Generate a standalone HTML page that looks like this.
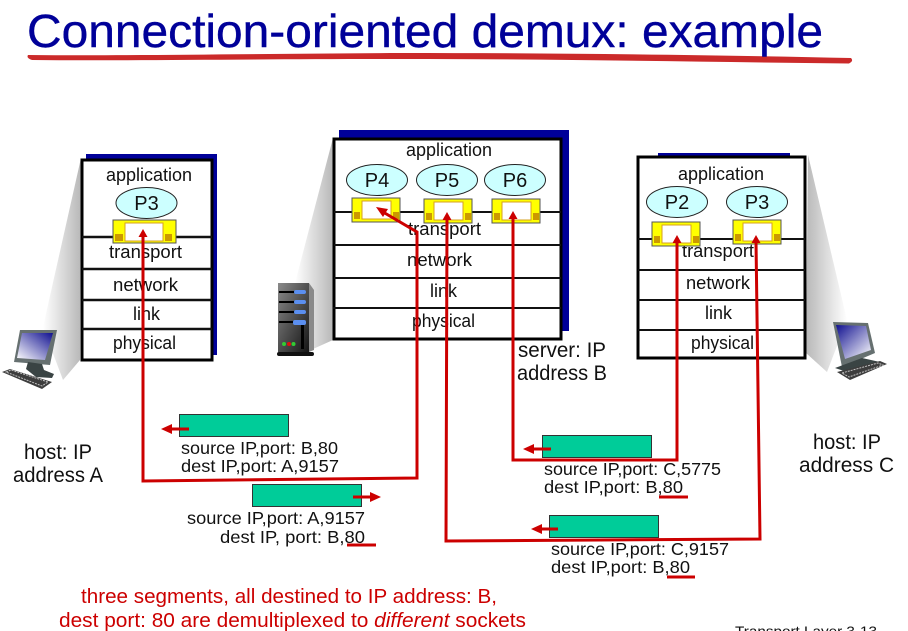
<!DOCTYPE html>
<html><head><meta charset="utf-8"><style>
html,body{margin:0;padding:0;background:#fff;width:908px;height:631px;overflow:hidden}
svg{display:block}
text{font-family:"Liberation Sans",sans-serif;fill:#111}
.l{font-size:18px}.p{font-size:20px}.s{font-size:17.500px}.h{font-size:21px}.r{font-size:20.500px;fill:#cc0000}
</style></head><body>
<svg width="908" height="631" viewBox="0 0 908 631" xmlns="http://www.w3.org/2000/svg">
<defs>
<linearGradient id="gl" x1="0" y1="0" x2="1" y2="0"><stop offset="0" stop-color="#fff"/><stop offset="1" stop-color="#b8b8b8"/></linearGradient>
<linearGradient id="gr" x1="1" y1="0" x2="0" y2="0"><stop offset="0" stop-color="#fff"/><stop offset="1" stop-color="#b8b8b8"/></linearGradient>
<linearGradient id="scr" x1="0" y1="0" x2="1" y2="1"><stop offset="0" stop-color="#101090"/><stop offset="1" stop-color="#fff"/></linearGradient>
<linearGradient id="scr2" x1="1" y1="0" x2="0" y2="1"><stop offset="0" stop-color="#101090"/><stop offset="1" stop-color="#fff"/></linearGradient>
<linearGradient id="srv" x1="0" y1="0" x2="1" y2="1"><stop offset="0" stop-color="#8a8a8a"/><stop offset="1" stop-color="#151515"/></linearGradient>
<g id="sock"><rect x="0" y="0" width="48" height="24" fill="#ffff00" stroke="#555" stroke-width="1"/><rect x="10" y="3" width="29" height="18" fill="#fff" stroke="#d4a020" stroke-width="1"/><rect x="2" y="14" width="6" height="7" fill="#cc9900"/><rect x="41" y="14" width="6" height="7" fill="#cc9900"/></g>
</defs>

<path d="M28 55C120 56 240 54 400 53C560 53 720 55 851 58Q854 61 849 63.500C700 62 560 59 400 59C240 59 120 61 32 60Q26 58 28 55z" fill="#cb2a2a"/>
<text x="27" y="47" font-size="46" textLength="796" lengthAdjust="spacingAndGlyphs" style="fill:#000099;stroke:#000099;stroke-width:.4">Connection-oriented demux: example</text>

<!-- shadows -->
<polygon points="81,158 43,327 63,380 80,360" fill="url(#gl)"/>
<polygon points="333,138 295,283 313,349 333,340" fill="url(#gl)"/>
<polygon points="808,155 847,320 827,372 806,353" fill="url(#gr)"/>

<!-- blue -->
<rect x="86" y="154" width="131" height="201" fill="#000099"/>
<rect x="339" y="130" width="230" height="201" fill="#000099"/>
<rect x="658" y="153" width="132" height="5" fill="#000099"/>

<!-- stacks -->
<rect x="82" y="160" width="130" height="200" fill="#fff" stroke="#000" stroke-width="3"/>
<path d="M82 237H212M82 269H212M82 300H212M82 329H212" stroke="#111" stroke-width="2.500" fill="none"/>
<rect x="334" y="139" width="227" height="200" fill="#fff" stroke="#000" stroke-width="3"/>
<path d="M334 212H561M334 245H561M334 278H561M333 308H561" stroke="#111" stroke-width="2" fill="none"/>
<rect x="638" y="157" width="167" height="201" fill="#fff" stroke="#000" stroke-width="3"/>
<path d="M638 239H805M638 270H805M638 300H805M638 330H805" stroke="#111" stroke-width="2" fill="none"/>

<!-- layer text -->
<text class="l" x="106" y="181" textLength="86" lengthAdjust="spacingAndGlyphs">application</text>
<text class="l" x="109" y="258" textLength="73" lengthAdjust="spacingAndGlyphs">transport</text>
<text class="l" x="113" y="291" textLength="65" lengthAdjust="spacingAndGlyphs">network</text>
<text class="l" x="133" y="320" textLength="27" lengthAdjust="spacingAndGlyphs">link</text>
<text class="l" x="113" y="349" textLength="63" lengthAdjust="spacingAndGlyphs">physical</text>
<text class="l" x="406" y="156" textLength="86" lengthAdjust="spacingAndGlyphs">application</text>
<text class="l" x="408" y="235" textLength="73" lengthAdjust="spacingAndGlyphs">transport</text>
<text class="l" x="407" y="266" textLength="65" lengthAdjust="spacingAndGlyphs">network</text>
<text class="l" x="430" y="297" textLength="27" lengthAdjust="spacingAndGlyphs">link</text>
<text class="l" x="412" y="327" textLength="63" lengthAdjust="spacingAndGlyphs">physical</text>
<text class="l" x="678" y="180" textLength="86" lengthAdjust="spacingAndGlyphs">application</text>
<text class="l" x="682" y="257" textLength="72" lengthAdjust="spacingAndGlyphs">transport</text>
<text class="l" x="686" y="289" textLength="64" lengthAdjust="spacingAndGlyphs">network</text>
<text class="l" x="705" y="319" textLength="27" lengthAdjust="spacingAndGlyphs">link</text>
<text class="l" x="691" y="349" textLength="63" lengthAdjust="spacingAndGlyphs">physical</text>

<!-- processes -->
<g fill="#ccffff" stroke="#222" stroke-width="1">
<ellipse cx="146.500" cy="203" rx="30.500" ry="15.500"/>
<ellipse cx="377" cy="180" rx="30.500" ry="15.500"/>
<ellipse cx="447" cy="180" rx="30.500" ry="15.500"/>
<ellipse cx="515" cy="180" rx="30.500" ry="15.500"/>
<ellipse cx="677" cy="202" rx="30.500" ry="15.500"/>
<ellipse cx="757" cy="202" rx="30.500" ry="15.500"/>
</g>
<text class="p" x="146.500" y="210" text-anchor="middle">P3</text>
<text class="p" x="377" y="187" text-anchor="middle">P4</text>
<text class="p" x="447" y="187" text-anchor="middle">P5</text>
<text class="p" x="515" y="187" text-anchor="middle">P6</text>
<text class="p" x="677" y="209" text-anchor="middle">P2</text>
<text class="p" x="757" y="209" text-anchor="middle">P3</text>

<!-- sockets -->
<rect x="113" y="220" width="63" height="23" fill="#ffff00" stroke="#555" stroke-width="1"/>
<rect x="125" y="223" width="38" height="18" fill="#fff" stroke="#d4a020" stroke-width="1"/>
<rect x="115" y="234" width="8" height="7" fill="#cc9900"/>
<rect x="165" y="234" width="7" height="7" fill="#cc9900"/>
<use href="#sock" x="352" y="198"/>
<use href="#sock" x="424" y="199"/>
<use href="#sock" x="492" y="199"/>
<use href="#sock" x="652" y="222"/>
<use href="#sock" x="733" y="220"/>

<!-- teal segments -->
<g fill="#00cc99" stroke="#333" stroke-width="1">
<rect x="179.500" y="414.500" width="109" height="22"/>
<rect x="252.500" y="484.500" width="109" height="22"/>
<rect x="542.500" y="435.500" width="109" height="22"/>
<rect x="549.500" y="515.500" width="109" height="22"/>
</g>

<!-- red connectors -->
<g fill="none" stroke="#cc0000" stroke-width="3">
<path d="M143 236V481L417 478V232L383 212"/>
<path d="M447 218L446 541L760 539L756 241"/>
<path d="M513 217V460H677V241"/>
<path d="M189 429H170"/>
<path d="M353 497H372"/>
<path d="M551 449H532"/>
<path d="M558 529H540"/>
<path d="M347 545H376M659 497H688M667 577H695"/>
</g>
<g fill="#cc0000">
<polygon points="143,229 138.500,237 147.500,237"/>
<polygon points="447,212 442.500,220 451.500,220"/>
<polygon points="513,211 508.500,219 517.500,219"/>
<polygon points="677,235 672.500,243 681.500,243"/>
<polygon points="756,235 751.500,243 760.500,243"/>
<polygon points="376,207 388,209 383,217"/>
<polygon points="161,429 172,424 172,434"/>
<polygon points="381,497 370,492 370,502"/>
<polygon points="523,449 534,444 534,454"/>
<polygon points="531,529 542,524 542,534"/>
</g>

<!-- segment labels -->
<text class="s" x="181" y="454" textLength="157" lengthAdjust="spacingAndGlyphs">source IP,port: B,80</text>
<text class="s" x="181" y="472" textLength="158" lengthAdjust="spacingAndGlyphs">dest IP,port: A,9157</text>
<text class="s" x="187" y="524" textLength="178" lengthAdjust="spacingAndGlyphs">source IP,port: A,9157</text>
<text class="s" x="220" y="543" textLength="145" lengthAdjust="spacingAndGlyphs">dest IP, port: B,80</text>
<text class="s" x="544" y="475" textLength="177" lengthAdjust="spacingAndGlyphs">source IP,port: C,5775</text>
<text class="s" x="544" y="493" textLength="139" lengthAdjust="spacingAndGlyphs">dest IP,port: B,80</text>
<text class="s" x="551" y="555" textLength="178" lengthAdjust="spacingAndGlyphs">source IP,port: C,9157</text>
<text class="s" x="551" y="573" textLength="139" lengthAdjust="spacingAndGlyphs">dest IP,port: B,80</text>

<!-- host labels -->
<text class="h" x="24" y="459" textLength="68" lengthAdjust="spacingAndGlyphs">host: IP</text>
<text class="h" x="13" y="482" textLength="90" lengthAdjust="spacingAndGlyphs">address A</text>
<text class="h" x="518" y="357" textLength="88" lengthAdjust="spacingAndGlyphs">server: IP</text>
<text class="h" x="517" y="380" textLength="90" lengthAdjust="spacingAndGlyphs">address B</text>
<text class="h" x="813" y="449" textLength="68" lengthAdjust="spacingAndGlyphs">host: IP</text>
<text class="h" x="799" y="472" textLength="95" lengthAdjust="spacingAndGlyphs">address C</text>

<!-- caption -->
<text class="r" x="81" y="603" textLength="416" lengthAdjust="spacingAndGlyphs">three segments, all destined to IP address: B,</text>
<text class="r" x="59" y="627" textLength="467" lengthAdjust="spacingAndGlyphs">dest port: 80 are demultiplexed to <tspan font-style="italic" style="fill:#cc0000">different</tspan> sockets</text>
<text x="735" y="636" font-size="14" textLength="142" lengthAdjust="spacingAndGlyphs">Transport Layer 3-13</text>

<!-- left computer -->
<polygon points="20,330 57,330 50,365 14,362" fill="#667070"/>
<polygon points="22,333 53,333 45,360 17,358" fill="url(#scr2)"/>
<polygon points="28,362 42,364 44,370 54,374 52,378 36,377 26,369" fill="#3a4444"/>
<polygon points="2,372 10,369 52,382 42,389" fill="#3d3d3d"/>
<path d="M6 372L11 370L48 382L42 386z" fill="none" stroke="#c0c0c0" stroke-width="1" stroke-dasharray="2 1"/>

<!-- right computer -->
<polygon points="833,322 868,323 875,353 842,367" fill="#667070"/>
<polygon points="836,325 866,326 871,350 845,359" fill="url(#scr)"/>
<polygon points="835,368 862,358 880,362 850,373" fill="#3a4444"/>
<polygon points="837,372 880,361 887,364 850,380" fill="#3d3d3d"/>
<path d="M842 373L878 363L883 365L849 377z" fill="none" stroke="#c0c0c0" stroke-width="1" stroke-dasharray="2 1"/>

<!-- server -->
<polygon points="278,283 309,283 309,352 278,352" fill="url(#srv)"/>
<polygon points="309,283 314,290 314,350 309,352" fill="#8a8a8a"/>
<g stroke="#000" stroke-width="2"><path d="M279 292H296M279 302H296M279 312H296M279 322H296"/></g>
<g fill="#5b8ff0"><rect x="294" y="290" width="12" height="4" rx="2"/><rect x="294" y="300" width="12" height="4" rx="2"/><rect x="294" y="310" width="12" height="4" rx="2"/><rect x="293" y="320" width="13" height="5" rx="2"/></g>
<rect x="301" y="325" width="3" height="24" fill="#000"/>
<circle cx="284" cy="344" r="2" fill="#33cc33"/><circle cx="289" cy="344" r="2" fill="#e01010"/><circle cx="293.500" cy="344" r="2" fill="#33cc33"/>
<rect x="277" y="352" width="37" height="4" rx="2" fill="#111"/>
</svg>
</body></html>
